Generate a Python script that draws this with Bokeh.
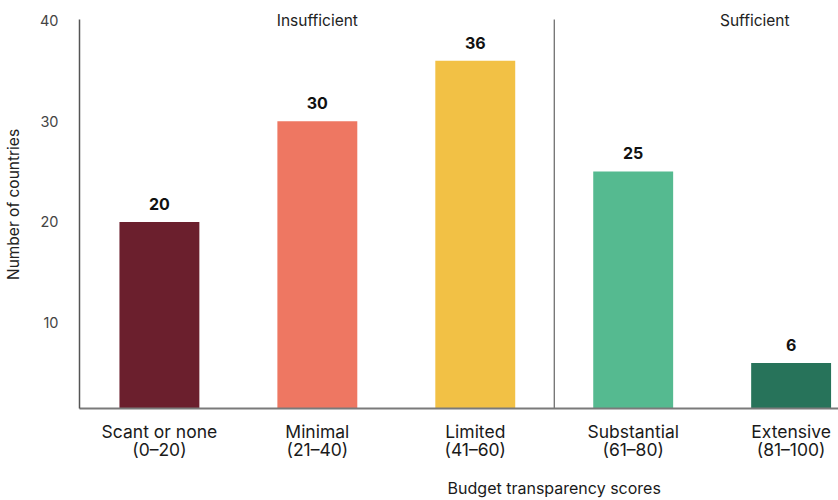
from bokeh.plotting import figure
from bokeh.models import FixedTicker, Label, ColumnDataSource, Range1d, LinearAxis
from bokeh.embed import file_html
from bokeh.resources import INLINE

FONT = "Inter"

# Budget transparency bands and the number of countries in each
bands = ["Scant or none", "Minimal", "Limited", "Substantial", "Extensive"]
score_ranges = ["(0–20)", "(21–40)", "(41–60)", "(61–80)", "(81–100)"]
counts = [20, 30, 36, 25, 6]
bar_colors = ["#6B1F2D", "#EE7762", "#F2C145", "#55BA90", "#27735A"]
y_ticks = [10, 20, 30, 40]
group_names = ["Insufficient", "Sufficient"]

Y0, Y1 = 1.47, 40.1          # extent of the drawn value axis
Y_TOP = 41.99                # room above the axis for the group headings

xs = list(range(len(bands)))
source = ColumnDataSource(dict(
    x=xs,
    count=counts,
    color=bar_colors,
    label=[str(c) for c in counts],
    label_y=[c + 1.2 for c in counts],
))

p = figure(
    width=838, height=500,
    x_range=Range1d(-0.506, 4.3),
    y_range=Range1d(Y0, Y_TOP),
    output_backend="svg", toolbar_location=None,
    min_border_left=79, min_border_right=0,
    min_border_top=0, min_border_bottom=92,
)
p.outline_line_color = None
p.xgrid.visible = False
p.ygrid.visible = False
p.background_fill_color = "white"
p.border_fill_color = "white"

p.vbar(x="x", top="count", bottom=Y0, width=0.506, fill_color="color",
       line_color=None, source=source)

p.text(x="x", y="label_y", text="label", source=source,
       text_align="center", text_baseline="bottom",
       text_font_size="16px", text_font_style="bold", text_color="#111111",
       text_font={"value": FONT})

# divider between insufficient and sufficient scores
p.segment(x0=[2.5], y0=[Y0], x1=[2.5], y1=[Y1], line_color="#444444",
          line_width=1)

for gx, name in zip([1, 3.77], group_names):
    p.add_layout(Label(x=gx, y=40.0, text=name, text_align="center",
                       text_baseline="middle", text_font_size="15.5px",
                       text_color="#222222", text_font=FONT))

# x axis: band names with score ranges underneath
xa = p.xaxis[0]
xa.ticker = FixedTicker(ticks=xs)
xa.major_label_overrides = {i: f"{b}\n{r}" for i, (b, r) in enumerate(zip(bands, score_ranges))}
xa.major_tick_in = 0
xa.major_tick_out = 0
xa.minor_tick_line_color = None
xa.axis_line_color = "#7a7a7a"
xa.axis_line_width = 2
xa.major_label_text_font = FONT
xa.major_label_text_font_size = "17.5px"
xa.major_label_text_color = "#1a1a1a"
xa.major_label_text_line_height = 0.88
xa.major_label_standoff = 12

# axis title, centred under the divider
ta = LinearAxis(ticker=FixedTicker(ticks=[2.5]),
                major_label_overrides={2.5: "Budget transparency scores"})
ta.axis_line_color = None
ta.major_tick_in = 0
ta.major_tick_out = 0
ta.minor_tick_line_color = None
ta.major_label_text_font = FONT
ta.major_label_text_font_size = "16px"
ta.major_label_text_font_style = "normal"
ta.major_label_text_color = "#1a1a1a"
ta.major_label_standoff = 15
p.add_layout(ta, "below")

ya = p.yaxis[0]
ya.ticker = FixedTicker(ticks=y_ticks)
ya.bounds = (Y0, Y1)
ya.major_tick_in = 0
ya.major_tick_out = 0
ya.minor_tick_line_color = None
ya.axis_line_color = "#555555"
ya.axis_line_width = 1.5
ya.major_label_text_font = FONT
ya.major_label_text_font_size = "14.5px"
ya.major_label_text_color = "#444444"
ya.major_label_standoff = 21
ya.axis_label = "Number of countries"
ya.axis_label_text_font = FONT
ya.axis_label_text_font_size = "15.5px"
ya.axis_label_text_font_style = "normal"
ya.axis_label_text_color = "#222222"
ya.axis_label_standoff = 14

open("out.html", "w").write(file_html(p, INLINE))
